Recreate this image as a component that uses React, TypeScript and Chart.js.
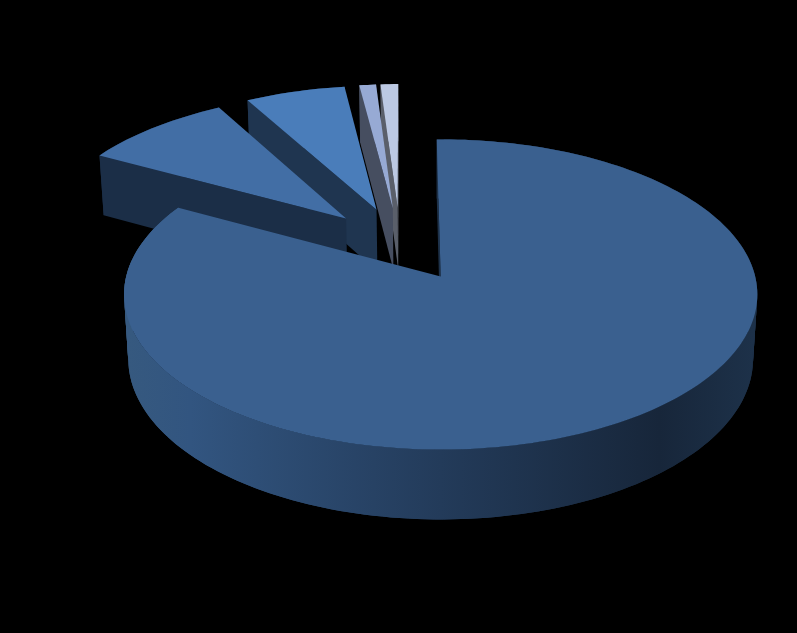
import { Chart, registerables } from 'chart.js'
import { useEffect, useRef } from 'react'

Chart.register(...registerables)

const sliceNames = ['Slice A', 'Slice B', 'Slice C', 'Slice D', 'Slice E']
const sliceValues = [83.1, 8.9, 5.95, 1, 1.05]
const topColors = ['#3a608f', '#426ea5', '#4a7dba', '#97aad4', '#bcc9e3']
const wallColors = ['#1d3149', '#1b2e47', '#1f3550', '#464e60', '#5a5f6a']

// perspective of the pie plane, fitted to the picture
const CX = 440.5
const CY = 276.5
const SCALE_X = 314.5
const SCALE_Y = 153
const DEPTH = 65
const TILT = 0.116
const SINK = 0.0135
// every slice is pulled out of the shared centre by this share of the radius
const EXPLODE = 0.255
const CENTRE_U = -0.1316
const CENTRE_V = -0.218

function project(u: number, v: number, z: number): [number, number] {
  const w = 1 - TILT * v + SINK * z
  return [CX + (SCALE_X * u) / w, CY + (SCALE_Y * v + DEPTH * z) / w]
}

function tracePath(ctx: CanvasRenderingContext2D, pts: [number, number][]) {
  ctx.beginPath()
  pts.forEach(([x, y], i) => (i ? ctx.lineTo(x, y) : ctx.moveTo(x, y)))
  ctx.closePath()
}

function signedArea(pts: [number, number][]) {
  let sum = 0
  pts.forEach(([x, y], i) => {
    const [nx, ny] = pts[(i + 1) % pts.length]
    sum += x * ny - nx * y
  })
  return sum
}

const exploded3d = {
  id: 'exploded3d',
  beforeDatasetDraw(chart: Chart) {
    const ctx = chart.ctx
    const arcs = chart.getDatasetMeta(0).data as any[]
    const wallGrad = ctx.createLinearGradient(128, 0, 753, 0)
    wallGrad.addColorStop(0, '#36597f')
    wallGrad.addColorStop(0.1, '#325580')
    wallGrad.addColorStop(0.5, '#233b5a')
    wallGrad.addColorStop(0.85, '#17263a')
    wallGrad.addColorStop(1, '#1d3149')
    // far slices first, the big one goes on top
    for (let i = arcs.length - 1; i >= 0; i--) {
      const { startAngle, endAngle } = arcs[i]
      const mid = (startAngle + endAngle) / 2
      const ou = CENTRE_U + EXPLODE * Math.cos(mid)
      const ov = CENTRE_V + EXPLODE * Math.sin(mid)
      const steps = Math.max(4, Math.ceil((endAngle - startAngle) * 40))
      const rim: [number, number][] = []
      for (let s = 0; s <= steps; s++) {
        const a = startAngle + ((endAngle - startAngle) * s) / steps
        rim.push([ou + Math.cos(a), ov + Math.sin(a)])
      }
      const topRim = rim.map(([u, v]) => project(u, v, 0))
      const lowRim = rim.map(([u, v]) => project(u, v, 1))
      const apexTop = project(ou, ov, 0)
      const apexLow = project(ou, ov, 1)

      // outer wall, strips overlap by one step so no seams show
      ctx.fillStyle = i === 0 ? wallGrad : wallColors[i]
      for (let s = 0; s < steps; s++) {
        const e = Math.min(s + 2, steps)
        tracePath(ctx, [...topRim.slice(s, e + 1), ...lowRim.slice(s, e + 1).reverse()])
        ctx.fill()
      }

      // radial walls, only the ones facing the viewer
      const startWall = [apexTop, topRim[0], lowRim[0], apexLow]
      const endWall = [apexTop, topRim[steps], lowRim[steps], apexLow]
      ctx.fillStyle = wallColors[i]
      if (signedArea(startWall) < 0) {
        tracePath(ctx, startWall)
        ctx.fill()
      }
      if (signedArea(endWall) > 0) {
        tracePath(ctx, endWall)
        ctx.fill()
      }

      // top face
      tracePath(ctx, [apexTop, ...topRim])
      ctx.fillStyle = arcs[i].options.backgroundColor
      ctx.fill()
    }
    return false
  },
}

export default function App() {
  const canvasRef = useRef<HTMLCanvasElement>(null)

  useEffect(() => {
    if (!canvasRef.current) return
    const chart = new Chart(canvasRef.current, {
      type: 'pie',
      data: {
        labels: sliceNames,
        datasets: [{ data: sliceValues, backgroundColor: topColors, borderWidth: 0 }],
      },
      options: {
        animation: false,
        responsive: false,
        rotation: -0.8,
        plugins: { legend: { display: false }, tooltip: { enabled: false } },
      },
      plugins: [exploded3d],
    })
    return () => chart.destroy()
  }, [])

  return (
    <div style={{ position: 'absolute', left: 0, top: 0, width: 797, height: 633, background: '#000' }}>
      <canvas ref={canvasRef} width={797} height={633} style={{ display: 'block' }} />
    </div>
  )
}
